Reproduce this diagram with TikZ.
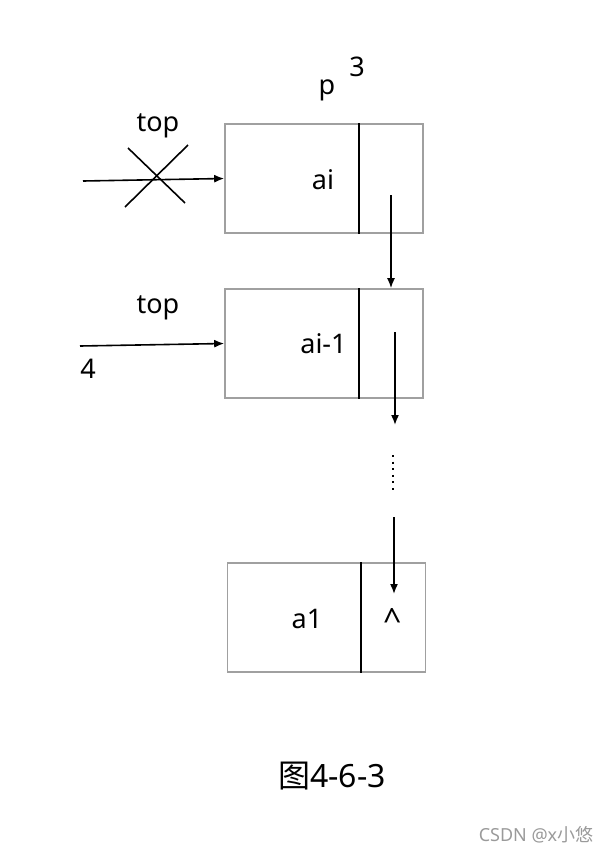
\documentclass[tikz,border=0pt]{standalone}
\usepackage{fontspec}
\setmainfont{Noto Sans}
\newfontfamily\cjk{Noto Sans CJK SC}
\usetikzlibrary{arrows.meta}
\definecolor{BoxGray}{HTML}{A0A0A0}
\definecolor{MarkGray}{HTML}{9A9A9A}

\begin{document}
\begin{tikzpicture}[x=1pt, y=-1pt,
  box/.style={draw=BoxGray, line width=1.6pt, minimum width=198pt, minimum height=109pt, inner sep=0pt},
  divider/.style={line width=1.8pt},
  ptr/.style={line width=1.6pt, -{Latex[length=10pt, width=8pt]}},
  lbl/.style={font=\fontsize{27}{31}\selectfont, inner sep=0pt}]
  \useasboundingbox (0,0) rectangle (612,854);

  % List nodes
  \node[box] (n1) at (324,178.5) {};
  \node[box] (n2) at (324,343.5) {};
  \node[box] (n3) at (326.5,617.5) {};

  % Pointer fields
  \draw[divider] ([xshift=35pt]n1.north) -- ([xshift=35pt]n1.south);
  \draw[divider] ([xshift=35pt]n2.north) -- ([xshift=35pt]n2.south);
  \draw[divider] ([xshift=34.5pt]n3.north) -- ([xshift=34.5pt]n3.south);

  % Data
  \node[lbl] (ai) at (323,180) {ai};
  \node[lbl] (aim) at (323.5,344) {ai-1};
  \node[lbl] (aone) at (307,619) {a1};
  \node[lbl, font=\fontsize{32}{36}\selectfont] (nil) at (393,620) {\textasciicircum};

  % Labels
  \node[lbl] (p) at (327,90) {p};
  \node[lbl] (three) at (357,67) {3};
  \node[lbl] (top1) at (158,126) {top};
  \node[lbl] (top2) at (158,308) {top};
  \node[lbl] (four) at (88,369) {4};

  % Old top pointer (crossed out)
  \coordinate (in1) at (83,181);
  \draw[ptr] (in1) -- (n1.west);
  \draw[line width=1.6pt] (125,207) -- (188,145);
  \draw[line width=1.6pt] (128,148) -- (185,203);

  % New top pointer
  \coordinate (in2) at (80,346);
  \draw[ptr] (in2) -- (n2.west);

  % Next links
  \coordinate (nx1) at (391,195);
  \draw[ptr] (nx1) -- (nx1 |- n2.north);
  \coordinate (nx2) at (395,332);
  \coordinate (nx2e) at (395,425);
  \draw[ptr] (nx2) -- (nx2e);
  \coordinate (d1) at (393,455);
  \coordinate (d2) at (393,493);
  \draw[line width=2pt, dash pattern=on 2pt off 4.6pt] (d1) -- (d2);
  \coordinate (nx3) at (394,517);
  \coordinate (nx3e) at (394,594);
  \draw[ptr] (nx3) -- (nx3e);

  % Caption
  \node[font=\fontsize{32}{36}\selectfont, inner sep=0pt] (cap) at (332,776) {{\cjk 图}4-6-3};
  \node[font=\fontsize{18}{21}\selectfont, text=MarkGray, inner sep=0pt] (wm) at (536,835) {CSDN @x{\cjk 小悠}};
\end{tikzpicture}
\end{document}
